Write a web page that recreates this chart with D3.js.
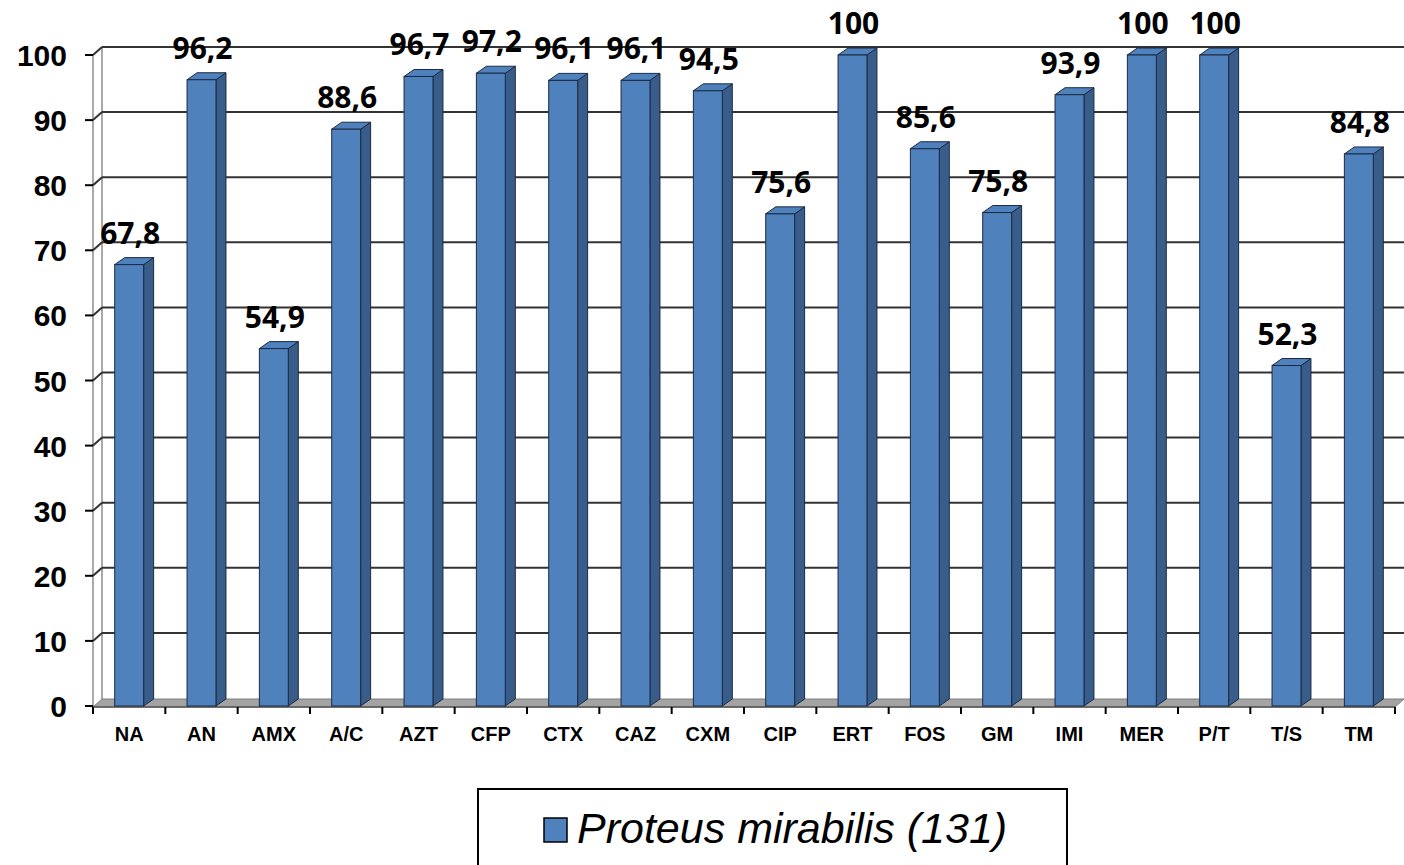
<!DOCTYPE html>
<html>
<head>
<meta charset="utf-8">
<script src="https://cdn.jsdelivr.net/npm/d3@7"></script>
<style>
  body { margin: 0; background: #fff; }
  svg { display: block; }
</style>
</head>
<body>
<div id="chart"></div>
<script>
const categories = ['NA', 'AN', 'AMX', 'A/C', 'AZT', 'CFP', 'CTX', 'CAZ', 'CXM', 'CIP', 'ERT', 'FOS', 'GM', 'IMI', 'MER', 'P/T', 'T/S', 'TM'];
const values = [67.8, 96.2, 54.9, 88.6, 96.7, 97.2, 96.1, 96.1, 94.5, 75.6, 100, 85.6, 75.8, 93.9, 100, 100, 52.3, 84.8];
const yTicks = [0, 10, 20, 30, 40, 50, 60, 70, 80, 90, 100];
const seriesName = 'Proteus mirabilis (131)';

const W = 1404, H = 865;
const left = 93, right = 1395, y0 = 706, y100 = 55;
const wallDx = 9, wallDy = 8;   // depth of the back wall
const barDx = 10, barDy = 7;    // depth of each column

const svg = d3.select('#chart').append('svg')
  .attr('width', W).attr('height', H);

const x = d3.scaleBand().domain(categories).range([left, right])
  .paddingInner(0.6).paddingOuter(0.3);
const y = d3.scaleLinear().domain([0, 100]).range([y0, y100]);

// floor
svg.append('path')
  .attr('d', `M${left},${y0 + 1}L${right},${y0 + 1}L${right + wallDx},${y0 + 1 - wallDy}L${left + wallDx},${y0 + 1 - wallDy}Z`)
  .attr('fill', '#a3a3a3').attr('stroke', '#7f7f7f').attr('stroke-width', 1);

// left wall verticals
svg.append('line').attr('x1', left).attr('x2', left)
  .attr('y1', y(100)).attr('y2', y0 + 1)
  .attr('stroke', '#8c8c8c').attr('stroke-width', 1.5);
svg.append('line').attr('x1', left + wallDx).attr('x2', left + wallDx)
  .attr('y1', y(100) - wallDy).attr('y2', y0 + 1 - wallDy)
  .attr('stroke', '#8c8c8c').attr('stroke-width', 1.5);

// gridlines on back wall + diagonal on side wall
const grid = svg.append('g');
yTicks.filter(d => d > 0).forEach(t => {
  grid.append('line')
    .attr('x1', left + wallDx).attr('x2', W)
    .attr('y1', y(t) - wallDy).attr('y2', y(t) - wallDy)
    .attr('stroke', '#333').attr('stroke-width', 2);
  grid.append('line')
    .attr('x1', left).attr('x2', left + wallDx)
    .attr('y1', y(t)).attr('y2', y(t) - wallDy)
    .attr('stroke', '#333').attr('stroke-width', 2);
});

// y axis ticks + labels
const yAxis = svg.append('g');
yTicks.forEach(t => {
  yAxis.append('line').attr('x1', left - 8).attr('x2', left)
    .attr('y1', y(t)).attr('y2', y(t))
    .attr('stroke', '#000').attr('stroke-width', 2);
  yAxis.append('text')
    .attr('x', 67).attr('y', y(t) + 11)
    .attr('text-anchor', 'end')
    .style('font', 'bold 30px "Liberation Sans", Arial, sans-serif')
    .text(t);
});

// x axis line + ticks
svg.append('line').attr('x1', left).attr('x2', right)
  .attr('y1', y0 + 1).attr('y2', y0 + 1)
  .attr('stroke', '#555').attr('stroke-width', 1.5);
d3.range(categories.length + 1).forEach(i => {
  const tx = left + i * x.step();
  svg.append('line').attr('x1', tx).attr('x2', tx)
    .attr('y1', y0 + 1).attr('y2', y0 + 8)
    .attr('stroke', '#000').attr('stroke-width', 2);
});
svg.append('g').selectAll('text').data(categories).enter().append('text')
  .attr('x', d => x(d) + x.bandwidth() / 2)
  .attr('y', 741)
  .attr('text-anchor', 'middle')
  .style('font', 'bold 20px "Liberation Sans", Arial, sans-serif')
  .text(d => d);

// 3D columns
const bars = svg.append('g').selectAll('g').data(categories).enter().append('g');
const bw = x.bandwidth();
bars.append('path') // side
  .attr('d', (d, i) => {
    const x1 = x(d) + bw, yt = y(values[i]);
    return `M${x1},${y0}L${x1 + barDx},${y0 - barDy}L${x1 + barDx},${yt - barDy}L${x1},${yt}Z`;
  })
  .attr('fill', '#385d8a').attr('stroke', '#1c2b40').attr('stroke-width', 1);
bars.append('path') // top
  .attr('d', (d, i) => {
    const x0 = x(d), yt = y(values[i]);
    return `M${x0},${yt}L${x0 + barDx},${yt - barDy}L${x0 + bw + barDx},${yt - barDy}L${x0 + bw},${yt}Z`;
  })
  .attr('fill', '#4f81bd').attr('stroke', '#1c2b40').attr('stroke-width', 1);
bars.append('rect') // front
  .attr('x', d => x(d))
  .attr('y', (d, i) => y(values[i]))
  .attr('width', bw)
  .attr('height', (d, i) => y0 - y(values[i]))
  .attr('fill', '#4f81bd').attr('stroke', '#1c2b40').attr('stroke-width', 1);

// data labels
svg.append('g').selectAll('text').data(categories).enter().append('text')
  .attr('x', d => x(d) + bw / 2 + 1)
  .attr('y', (d, i) => y(values[i]) - 21)
  .attr('text-anchor', 'middle')
  .style('font', 'bold 30px "Open Sans", sans-serif')
  .text((d, i) => String(values[i]).replace('.', ','));

// legend
const lg = svg.append('g');
lg.append('rect').attr('x', 478).attr('y', 789).attr('width', 589).attr('height', 100)
  .attr('fill', '#fff').attr('stroke', '#000').attr('stroke-width', 2);
lg.append('rect').attr('x', 544).attr('y', 818).attr('width', 23).attr('height', 24)
  .attr('fill', '#4f81bd').attr('stroke', '#000').attr('stroke-width', 1.5);
lg.append('text').attr('x', 577).attr('y', 843)
  .style('font', 'italic 43px "Liberation Sans", Arial, sans-serif')
  .text(seriesName);
</script>
</body>
</html>
